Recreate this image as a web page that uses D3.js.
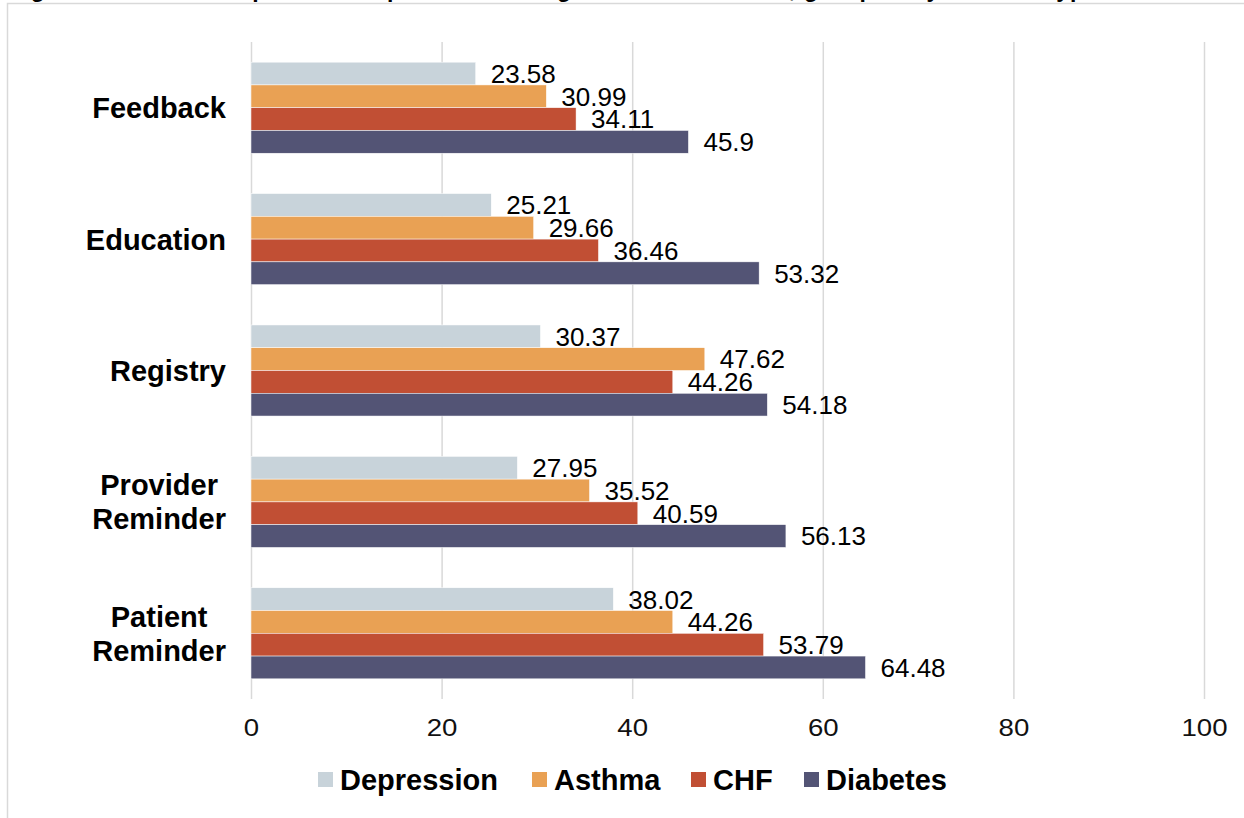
<!DOCTYPE html>
<html>
<head>
<meta charset="utf-8">
<script src="https://cdn.jsdelivr.net/npm/d3@7"></script>
<style>
  html, body { margin: 0; padding: 0; background: #fff; }
  svg { display: block; font-family: "Liberation Sans", Arial, sans-serif; }
</style>
</head>
<body>
<svg id="chart" width="1244" height="818"></svg>
<script>
// Care-management strategies (top to bottom) and disease series
const categories = ["Feedback", "Education", "Registry", "Provider Reminder", "Patient Reminder"];
const seriesNames = ["Depression", "Asthma", "CHF", "Diabetes"];
const depression = [23.58, 25.21, 30.37, 27.95, 38.02];
const asthma     = [30.99, 29.66, 47.62, 35.52, 44.26];
const chf        = [34.11, 36.46, 44.26, 40.59, 53.79];
const diabetes   = [45.9, 53.32, 54.18, 56.13, 64.48];
const seriesColors = ["#c8d3da", "#e9a154", "#c14f34", "#535475"];
const xTicks = [0, 20, 40, 60, 80, 100];
const titleText = "Figure 2. Percent of patients in practices using each intervention, grouped by disease type";

const seriesValues = [depression, asthma, chf, diabetes];
const rows = categories.map((c, i) => ({
  category: c,
  values: seriesNames.map((s, j) => ({ series: s, value: seriesValues[j][i], color: seriesColors[j] }))
}));

const svg = d3.select("#chart");
const W = 1244, H = 818;
const plot = { left: 251, right: 1204, top: 42, bottom: 699 };

// frame around the figure
svg.append("path")
  .attr("d", `M7.5,${H} L7.5,3.5 L${W},3.5`)
  .attr("fill", "none")
  .attr("stroke", "#d9d9d9")
  .attr("stroke-width", 1.5);

// title line (sits above the frame)
svg.append("text")
  .attr("x", 8)
  .attr("y", -3.5)
  .attr("textLength", 1090)
  .attr("lengthAdjust", "spacing")
  .attr("font-size", 23)
  .attr("font-weight", "bold")
  .attr("fill", "#000")
  .text(titleText);

const x = d3.scaleLinear().domain([0, 100]).range([plot.left, plot.right]);
const y = d3.scaleBand().domain(categories).range([plot.top, plot.bottom])
  .paddingInner(0.307).paddingOuter(0.1535);
const yInner = d3.scaleBand().domain(seriesNames).range([0, y.bandwidth()]);

// vertical gridlines + tick labels from a bottom axis
const xAxis = d3.axisBottom(x).tickValues(xTicks).tickSize(-(plot.bottom - plot.top)).tickPadding(20);
const gx = svg.append("g").attr("transform", `translate(0,${plot.bottom})`).call(xAxis);
gx.select(".domain").remove();
gx.selectAll(".tick line").attr("stroke", "#d9d9d9").attr("stroke-width", 1.5);
gx.selectAll(".tick text")
  .attr("font-family", "Liberation Sans, Arial, sans-serif")
  .attr("font-size", 24)
  .attr("fill", "#111")
  .attr("transform", "scale(1.15,1)");

// bars
const groups = svg.append("g").selectAll("g.group")
  .data(rows).join("g")
  .attr("class", "group")
  .attr("transform", d => `translate(0,${y(d.category)})`);

groups.selectAll("rect")
  .data(d => d.values).join("rect")
  .attr("x", x(0))
  .attr("y", d => yInner(d.series))
  .attr("width", d => x(d.value) - x(0))
  .attr("height", yInner.bandwidth())
  .attr("fill", d => d.color)
  .attr("stroke", "#fff")
  .attr("stroke-width", 0.5);

// value labels
groups.selectAll("text.val")
  .data(d => d.values).join("text")
  .attr("class", "val")
  .attr("x", d => x(d.value) + 15)
  .attr("y", d => yInner(d.series) + yInner.bandwidth() / 2)
  .attr("dy", "0.36em")
  .attr("font-size", 26)
  .attr("fill", "#000")
  .text(d => d.value);

// category labels (two-word labels wrap onto two centred lines)
const labelRight = 226;
const catSize = 29;
svg.append("g").selectAll("g.cat")
  .data(categories).join("g")
  .attr("class", "cat")
  .each(function (c) {
    const g = d3.select(this);
    const words = c.split(" ");
    const cy = y(c) + y.bandwidth() / 2;
    const t = g.append("text")
      .attr("font-size", catSize)
      .attr("font-weight", "bold")
      .attr("fill", "#000");
    if (words.length === 1) {
      t.attr("x", labelRight).attr("y", cy).attr("dy", "0.36em")
        .attr("text-anchor", "end").text(c);
    } else {
      // measure each line, centre both lines under the longest one
      const probe = g.append("text").attr("font-size", catSize).attr("font-weight", "bold");
      const widths = words.map(w => { probe.text(w); return probe.node().getComputedTextLength(); });
      probe.remove();
      const cx = labelRight - d3.max(widths) / 2;
      t.attr("text-anchor", "middle");
      words.forEach((w, i) => {
        t.append("tspan")
          .attr("x", cx)
          .attr("y", cy + (i === 0 ? -17 : 17))
          .attr("dy", "0.36em")
          .text(w);
      });
    }
  });

// legend
const legendItems = [
  { name: seriesNames[0], color: seriesColors[0], x: 318 },
  { name: seriesNames[1], color: seriesColors[1], x: 532 },
  { name: seriesNames[2], color: seriesColors[2], x: 691 },
  { name: seriesNames[3], color: seriesColors[3], x: 804 }
];
const legendY = 780;
const lg = svg.append("g").selectAll("g.leg").data(legendItems).join("g")
  .attr("class", "leg")
  .attr("transform", d => `translate(${d.x},${legendY})`);
lg.append("rect").attr("x", 0).attr("y", -8).attr("width", 15).attr("height", 15)
  .attr("fill", d => d.color);
lg.append("text").attr("x", 22).attr("y", 0).attr("dy", "0.36em")
  .attr("font-size", 29).attr("font-weight", "bold").attr("fill", "#000")
  .text(d => d.name);
</script>
</body>
</html>
